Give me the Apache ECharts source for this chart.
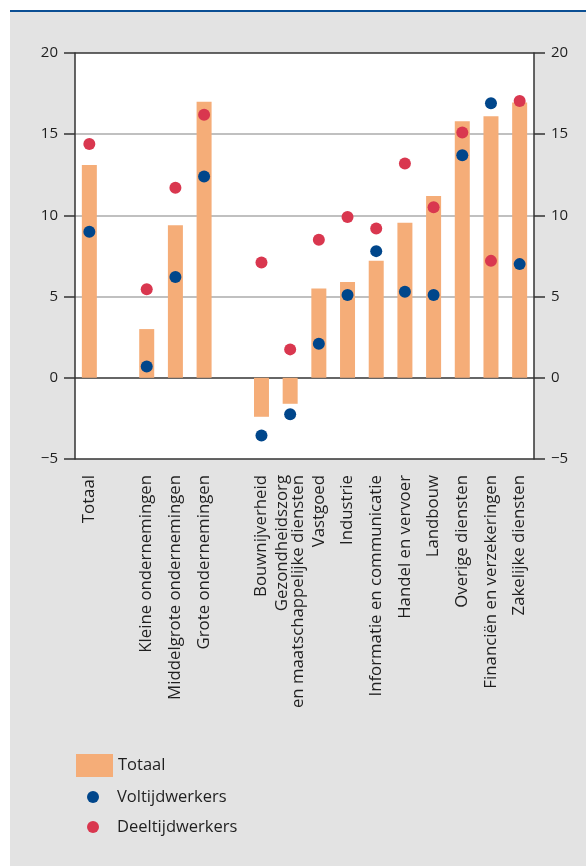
<!DOCTYPE html>
<html>
<head>
<meta charset="utf-8">
<script src="https://cdn.jsdelivr.net/npm/echarts@6/dist/echarts.min.js"></script>
<style>
  html, body { margin: 0; padding: 0; background: #ffffff; }
  #chart { width: 586px; height: 866px; }
</style>
</head>
<body>
<div id="chart"></div>
<script>
// Categories (empty strings leave gaps between the groups)
const categories = [
  'Totaal', '',
  'Kleine ondernemingen', 'Middelgrote ondernemingen', 'Grote ondernemingen', '',
  'Bouwnijverheid', 'Gezondheidszorg\nen maatschappelijke diensten', 'Vastgoed', 'Industrie',
  'Informatie en communicatie', 'Handel en vervoer', 'Landbouw', 'Overige diensten',
  'Financiën en verzekeringen', 'Zakelijke diensten'
];

const totaal = [13.1, null, 3.0, 9.4, 17.0, null, -2.4, -1.6, 5.5, 5.9, 7.2, 9.55, 11.2, 15.8, 16.1, 16.95];
const voltijd = [9.0, null, 0.7, 6.2, 12.4, null, -3.55, -2.25, 2.1, 5.1, 7.8, 5.3, 5.1, 13.7, 16.9, 7.0];
const deeltijd = [14.4, null, 5.45, 11.7, 16.2, null, 7.1, 1.75, 8.5, 9.9, 9.2, 13.2, 10.5, 15.1, 7.2, 17.05];

const yTicks = { min: -5, max: 20, interval: 5 };

const FONT = '"Open Sans", "Noto Sans", sans-serif';
const TEXT = '#1f1f1f';
const DARK = '#333333';
const GRID = '#ababab';
const ORANGE = '#f5ad78';
const BLUE = '#00468b';
const RED = '#d9374f';

const fmt = v => (v < 0 ? '\u2212' + Math.abs(v) : String(v));

const chart = echarts.init(document.getElementById('chart'), null, { renderer: 'canvas' });

const valueAxisBase = {
  type: 'value',
  min: yTicks.min, max: yTicks.max, interval: yTicks.interval,
  axisLine: { show: true, lineStyle: { color: DARK, width: 1.5 } },
  axisTick: { show: true, length: 11, lineStyle: { color: DARK, width: 1.5 } },
  axisLabel: { fontFamily: FONT, fontSize: 15, color: TEXT, margin: 17, formatter: fmt }
};

const legendText = { fontFamily: FONT, fontSize: 16.5, color: TEXT, lineHeight: 20 };

chart.setOption({
  animation: false,
  backgroundColor: '#ffffff',
  graphic: [
    { type: 'rect', z: -10, shape: { x: 10, y: 12, width: 576, height: 854 }, style: { fill: '#e3e3e3' } },
    { type: 'rect', z: -9, shape: { x: 10, y: 10, width: 576, height: 2 }, style: { fill: '#0b4f94' } }
  ],
  grid: {
    left: 75, right: 52, top: 53, bottom: 407,
    show: true, backgroundColor: '#ffffff', borderWidth: 0
  },
  legend: [
    {
      data: [{ name: 'Totaal', icon: 'rect' }], left: 76, top: 754, padding: 0,
      itemWidth: 37, itemHeight: 23, textStyle: legendText, selectedMode: false
    },
    {
      data: [{ name: 'Voltijdwerkers', icon: 'circle' }], left: 87, top: 787, padding: 0,
      itemWidth: 12, itemHeight: 12, selectedMode: false,
      textStyle: Object.assign({}, legendText, { padding: [0, 0, 0, 13] })
    },
    {
      data: [{ name: 'Deeltijdwerkers', icon: 'circle' }], left: 87, top: 817, padding: 0,
      itemWidth: 12, itemHeight: 12, selectedMode: false,
      textStyle: Object.assign({}, legendText, { padding: [0, 0, 0, 13] })
    }
  ],
  xAxis: {
    type: 'category',
    data: categories,
    axisLine: { show: false },
    axisTick: { show: false },
    axisLabel: {
      interval: 0, rotate: 90, margin: 16,
      fontFamily: FONT, fontSize: 16.8, color: TEXT, lineHeight: 16
    }
  },
  yAxis: [
    Object.assign({}, valueAxisBase, {
      position: 'left',
      splitLine: {
        show: true,
        lineStyle: { color: [DARK, DARK, GRID, GRID, GRID, DARK], width: 1.5 }
      }
    }),
    Object.assign({}, valueAxisBase, {
      position: 'right',
      splitLine: { show: false }
    })
  ],
  series: [
    {
      name: 'Totaal', type: 'bar', data: totaal, barWidth: 15,
      itemStyle: { color: ORANGE }, z: 2
    },
    {
      name: 'Voltijdwerkers', type: 'scatter', data: voltijd, symbol: 'circle', symbolSize: 12,
      itemStyle: { color: BLUE, opacity: 1 }, z: 4
    },
    {
      name: 'Deeltijdwerkers', type: 'scatter', data: deeltijd, symbol: 'circle', symbolSize: 12,
      itemStyle: { color: RED, opacity: 1 }, z: 3
    }
  ]
});
</script>
</body>
</html>
